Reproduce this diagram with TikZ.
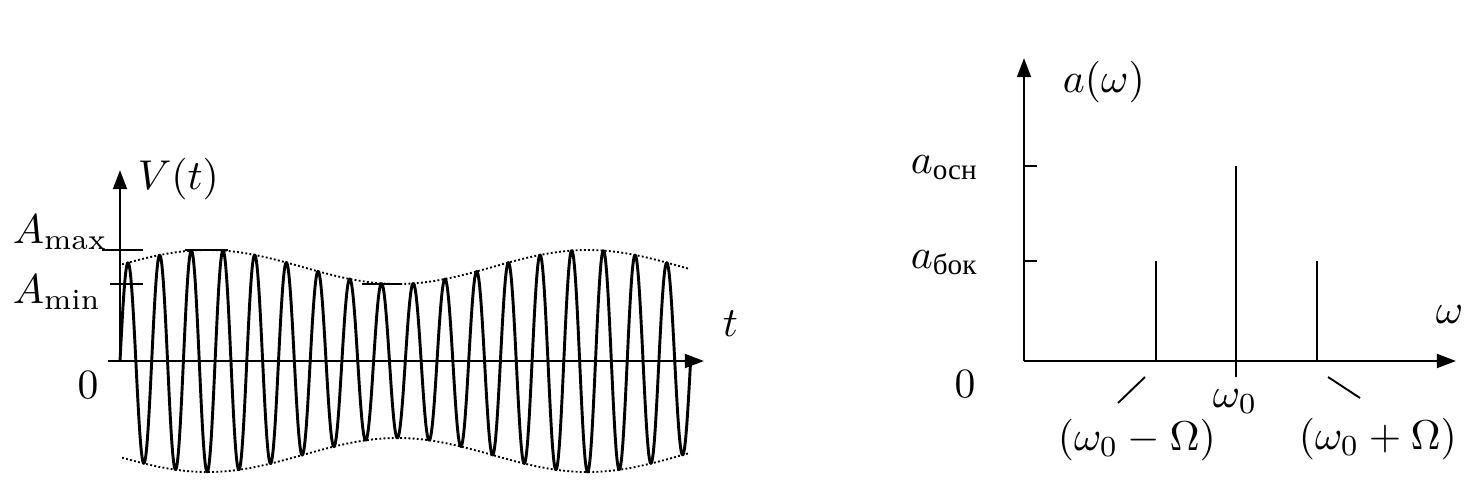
\documentclass[tikz,border=0pt]{standalone}
\usepackage{amsmath}
\usepackage{fontspec}
\newfontfamily\cyrfont{Liberation Serif}
\usetikzlibrary{arrows.meta}
\begin{document}
\begin{tikzpicture}[x=0.24pt,y=-0.24pt,
  axis/.style={line width=0.65pt,-{Triangle[length=4.6pt,width=3.3pt]}},
  tick/.style={line width=0.55pt},
  spline/.style={line width=0.45pt},
  carrier/.style={line width=0.7pt,line join=round},
  envelope/.style={line width=0.45pt,dash pattern=on 0.45pt off 0.55pt},
  lbl/.style={inner sep=0pt,anchor=base west},
  lblc/.style={inner sep=0pt,anchor=base}]
\useasboundingbox (0,0) rectangle (1468,483);
% ---------- left plot ----------
\coordinate (O1) at (120,361);
\coordinate (Vtop) at (120,170);
\coordinate (tstart) at (108,361);
\coordinate (tend) at (704,361);
\draw[axis] (O1) -- (Vtop);
\draw[axis] (tstart) -- (tend);
\node[lbl] (Vt) at (137,189) {$V(t)$};
\node[lbl] (tl) at (722,336) {$t$};
\node[lblc] (z1) at (88,398) {$0$};
\node[lbl] (Amax) at (12,243) {$A_{\mathrm{max}}$};
\node[lbl] (Amin) at (12,303) {$A_{\mathrm{min}}$};
\coordinate (amx1) at (102,250); \coordinate (amx2) at (143,250);
\coordinate (amn1) at (110,284); \coordinate (amn2) at (143,284);
\coordinate (bar1a) at (185,250); \coordinate (bar1b) at (228,250);
\coordinate (bar2a) at (362,284); \coordinate (bar2b) at (402,284);
\draw[tick] (amx1) -- (amx2);
\draw[tick] (amn1) -- (amn2);
\draw[tick] (bar1a) -- (bar1b);
\draw[tick] (bar2a) -- (bar2b);
\draw[envelope] plot[domain=122:690,samples=120,smooth] (\x,{361-(94+17*cos((\x-207.5)*0.947368))});
\draw[envelope] plot[domain=122:690,samples=120,smooth] (\x,{361+(94+17*cos((\x-207.5)*0.947368))});
\draw[carrier] plot[domain=120:690.6,samples=900,smooth] (\x,{361-(94+17*cos((\x-207.5)*0.947368))*sin((\x-120)*11.35647)});
% ---------- right plot ----------
\coordinate (O2) at (1024,361);
\coordinate (atop) at (1024,58);
\coordinate (wend) at (1456,361);
\draw[axis] (O2) -- (atop);
\draw[axis] (O2) -- (wend);
\node[lbl] (aw) at (1062,93) {$a(\omega)$};
\node[lbl] (aosn) at (910,173) {$a_{\text{\cyrfont осн}}$};
\node[lbl] (abok) at (910,268) {$a_{\text{\cyrfont бок}}$};
\node[lblc] (z2) at (965,397) {$0$};
\node[lbl] (w) at (1435,323) {$\omega$};
\node[lbl] (w0) at (1212,407) {$\omega_0$};
\node[lbl] (wm) at (1057,450) {$(\omega_0-\Omega)$};
\node[lbl] (wp) at (1298,449) {$(\omega_0+\Omega)$};
\coordinate (t1a) at (1024,166); \coordinate (t1b) at (1037,166);
\coordinate (t2a) at (1024,261); \coordinate (t2b) at (1037,261);
\draw[tick] (t1a) -- (t1b);
\draw[tick] (t2a) -- (t2b);
\coordinate (l1a) at (1156,361); \coordinate (l1b) at (1156,261);
\coordinate (l2a) at (1236,377); \coordinate (l2b) at (1236,166);
\coordinate (l3a) at (1317,361); \coordinate (l3b) at (1317,261);
\draw[spline] (l1a) -- (l1b);
\draw[spline] (l2a) -- (l2b);
\draw[spline] (l3a) -- (l3b);
\coordinate (s1a) at (1118,403); \coordinate (s1b) at (1145,377);
\coordinate (s2a) at (1328,377); \coordinate (s2b) at (1360,398);
\draw[spline] (s1a) -- (s1b);
\draw[spline] (s2a) -- (s2b);
\end{tikzpicture}
\end{document}
